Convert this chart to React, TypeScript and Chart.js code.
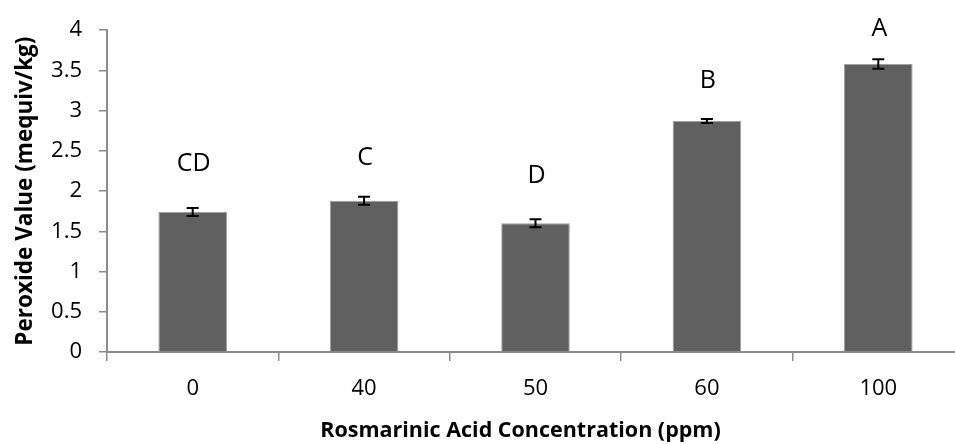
import { useEffect, useRef } from "react";
import { Chart, registerables } from "chart.js";

Chart.register(...registerables);

const categories = ["0", "40", "50", "60", "100"];
const peroxideValues = [1.74, 1.88, 1.6, 2.87, 3.58];
const errorValues = [0.05, 0.05, 0.05, 0.025, 0.06];
const groupLetters = ["CD", "C", "D", "B", "A"];
const letterLevels = [2.36, 2.43, 2.21, 3.39, 4.04];
const yMin = 0;
const yMax = 4;
const yStep = 0.5;

const xTitle = "Rosmarinic Acid Concentration (ppm)";
const yTitle = "Peroxide Value (mequiv/kg)";

const FONT = '"Open Sans", "Noto Sans", sans-serif';
const AXIS_GREY = "#8c8c8c";
const LETTER_SIZE = 25;
const XTITLE_SIZE = 21.5;

const annotatePlugin = {
  id: "errorBarsAndLetters",
  afterDatasetsDraw(chart: any) {
    const ctx = chart.ctx;
    const meta = chart.getDatasetMeta(0);
    const yScale = chart.scales.y;
    ctx.save();
    meta.data.forEach((bar: any, i: number) => {
      const x = bar.x;
      const top = yScale.getPixelForValue(peroxideValues[i] + errorValues[i]);
      const bot = yScale.getPixelForValue(peroxideValues[i] - errorValues[i]);
      ctx.strokeStyle = "#000";
      ctx.lineWidth = 2;
      ctx.beginPath();
      ctx.moveTo(x, top);
      ctx.lineTo(x, bot);
      ctx.moveTo(x - 6, top);
      ctx.lineTo(x + 6, top);
      ctx.moveTo(x - 6, bot);
      ctx.lineTo(x + 6, bot);
      ctx.stroke();
      ctx.fillStyle = "#000";
      ctx.font = `${LETTER_SIZE}px ${FONT}`;
      ctx.textAlign = "center";
      ctx.textBaseline = "alphabetic";
      const cy = yScale.getPixelForValue(letterLevels[i]);
      ctx.fillText(groupLetters[i], x + 1, cy + 0.357 * LETTER_SIZE);
    });
    ctx.restore();
  },
  afterDraw(chart: any) {
    const ctx = chart.ctx;
    const area = chart.chartArea;
    ctx.save();
    ctx.fillStyle = "#000";
    ctx.font = `bold ${XTITLE_SIZE}px ${FONT}`;
    ctx.textAlign = "center";
    ctx.textBaseline = "alphabetic";
    const cx = (area.left + area.right) / 2 - 15;
    ctx.fillText(xTitle, cx, chart.height - 7);
    ctx.restore();
  },
};

export default function App() {
  const ref = useRef<HTMLCanvasElement | null>(null);

  useEffect(() => {
    if (!ref.current) return;
    const chart = new Chart(ref.current, {
      type: "bar",
      data: {
        labels: categories,
        datasets: [
          {
            data: peroxideValues,
            backgroundColor: "#606060",
            borderColor: "#a0a0a0",
            borderWidth: 1,
            barPercentage: 0.4,
            categoryPercentage: 1,
          },
        ],
      },
      options: {
        responsive: false,
        animation: false,
        layout: { padding: { top: 24, right: 2, left: 0, bottom: 0 } },
        plugins: {
          legend: { display: false },
          tooltip: { enabled: false },
        },
        scales: {
          x: {
            grid: {
              display: true,
              drawOnChartArea: false,
              drawTicks: true,
              tickLength: 9,
              color: AXIS_GREY,
              lineWidth: 1.5,
              offset: true,
            },
            border: { display: true, color: AXIS_GREY, width: 2 },
            ticks: {
              color: "#000",
              font: { family: FONT, size: 22 },
              padding: 15,
              maxRotation: 0,
            },
            title: { display: false, text: xTitle },
            afterFit(scale: any) {
              scale.height = 92;
            },
          },
          y: {
            min: yMin,
            max: yMax,
            grid: {
              display: true,
              drawOnChartArea: false,
              drawTicks: true,
              tickLength: 8,
              color: AXIS_GREY,
              lineWidth: 1.5,
            },
            border: { display: true, color: AXIS_GREY, width: 2 },
            ticks: {
              stepSize: yStep,
              color: "#000",
              font: { family: FONT, size: 22 },
              padding: 17,
              callback: (v: any) => String(Number(v)),
            },
            title: {
              display: true,
              text: yTitle,
              color: "#000",
              font: { family: FONT, size: 22.5, weight: "bold" },
              padding: { top: 12, bottom: 0 },
            },
            afterFit(scale: any) {
              scale.width = 107;
            },
          },
        },
      },
      plugins: [annotatePlugin],
    });
    return () => chart.destroy();
  }, []);

  return (
    <div
      style={{
        position: "absolute",
        left: 0,
        top: 0,
        width: 955,
        height: 444,
        overflow: "hidden",
        background: "#fff",
      }}
    >
      <canvas ref={ref} width={966} height={444} style={{ width: 966, height: 444, display: "block" }} />
    </div>
  );
}
